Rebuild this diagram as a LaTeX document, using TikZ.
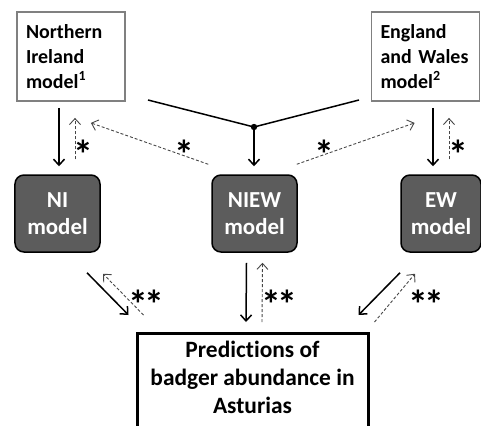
\documentclass[tikz,border=0pt]{standalone}
\usepackage{fontspec}
\setmainfont{Carlito}[Ligatures=NoCommon]
\usetikzlibrary{arrows.meta}
\definecolor{modelgray}{RGB}{92,92,92}
\definecolor{framegray}{RGB}{128,128,128}
\definecolor{dashgray}{RGB}{70,70,70}

\begin{document}
\begin{tikzpicture}[
    x=1bp, y=-1bp,
    source/.style={rectangle, draw=framegray, line width=1.8bp, minimum width=108bp, minimum height=89bp, text width=90bp, inner xsep=9bp, align=left, font=\fontsize{20}{25}\selectfont\bfseries},
    model/.style={rectangle, draw=black, line width=1.5bp, fill=modelgray, rounded corners=9bp, minimum width=85bp, minimum height=77bp, align=center, text=white, font=\fontsize{23}{27}\selectfont\bfseries},
    predbox/.style={rectangle, draw=black, line width=3bp, minimum width=231bp, inner ysep=8bp, text depth=30bp, align=center, font=\fontsize{23.5}{28}\selectfont\bfseries},
    flow/.style={-{Straight Barb[length=6bp,width=11bp]}, line width=1.5bp},
    check/.style={-{Straight Barb[length=6bp,width=11bp]}, line width=0.9bp, dashgray, dash pattern=on 3bp off 2bp},
    star/.style={inner sep=0pt, font=\fontsize{40}{40}\selectfont\bfseries},
]
    \useasboundingbox (0,0) rectangle (481,425);
    % Source models
    \node[source] (nisrc) at (71,56.5) {Northern\\Ireland\\model\textsuperscript{1}};
    \node[source] (ewsrc) at (425.5,56.5) {England\\and Wales\\model\textsuperscript{2}};
    % Fitted models
    \node[model] (nimodel) at (57.5,213.5) {NI\\model};
    \node[model] (niewmodel) at (254.5,213.5) {NIEW\\model};
    \node[model, minimum width=80bp] (ewmodel) at (441,213.5) {EW\\model};
    % Predictions
    \node[predbox, anchor=north] (pred) at (252.5,332) {Predictions of\\badger abundance in\\Asturias};

    % Joint model from both sources
    \coordinate (jl) at (148,100);
    \coordinate (jr) at (359,100);
    \coordinate (jn) at (254,127);
    \draw[line width=1.5bp] (jl) -- (jn) -- (jr);
    \fill (jn) circle (3.2bp);
    \draw[flow, shorten >=8bp] (jn) -- (jn |- niewmodel.north);

    % NI
    \draw[flow, shorten <=6bp, shorten >=8bp] ([xshift=-12bp]nisrc.south) -- ([xshift=-12bp]nisrc.south |- nimodel.north);
    \draw[check, shorten <=15bp, shorten >=16bp] ([xshift=4bp]nisrc.south |- nimodel.north) -- ([xshift=4bp]nisrc.south);
    \node[star] (s1) at (83,154) {*};
    \draw[check] ([shift={(-3,-10)}]niewmodel.north west) -- ([shift={(-35,21)}]nisrc.south east);
    \node[star] (s2) at (184,154) {*};

    % EW
    \draw[flow, shorten <=6bp, shorten >=8bp] ([xshift=7.5bp]ewsrc.south) -- ([xshift=7.5bp]ewsrc.south |- ewmodel.north);
    \draw[check, shorten <=15bp, shorten >=16bp] ([xshift=23.5bp]ewsrc.south |- ewmodel.north) -- ([xshift=23.5bp]ewsrc.south);
    \node[star] (s3) at (458,154) {*};
    \draw[check] ([shift={(-1,-10)}]niewmodel.north east) -- ([shift={(44,21)}]ewsrc.south west);
    \node[star] (s4) at (324,154) {*};

    % Towards the predictions
    \draw[flow] ([shift={(29.5,20)}]nimodel.south) -- ([shift={(-7,-17)}]pred.north west);
    \draw[check] ([shift={(8,-17)}]pred.north west) -- ([shift={(45.5,21)}]nimodel.south);
    \node[star] (s5) at (146,304) {*\kern-4bp*};
    \draw[flow] ([shift={(-8,10)}]niewmodel.south) -- ([shift={(-6.5,-10)}]pred.north);
    \draw[check] ([shift={(9.5,-10)}]pred.north) -- ([shift={(8,10)}]niewmodel.south);
    \node[star] (s6) at (279,304) {*\kern-4bp*};
    \draw[flow] ([shift={(-41,20)}]ewmodel.south) -- ([shift={(-11,-17)}]pred.north east);
    \draw[check] ([shift={(5,-10)}]pred.north east) -- ([shift={(-26,21)}]ewmodel.south);
    \node[star] (s7) at (426,304) {*\kern-4bp*};
\end{tikzpicture}
\end{document}
